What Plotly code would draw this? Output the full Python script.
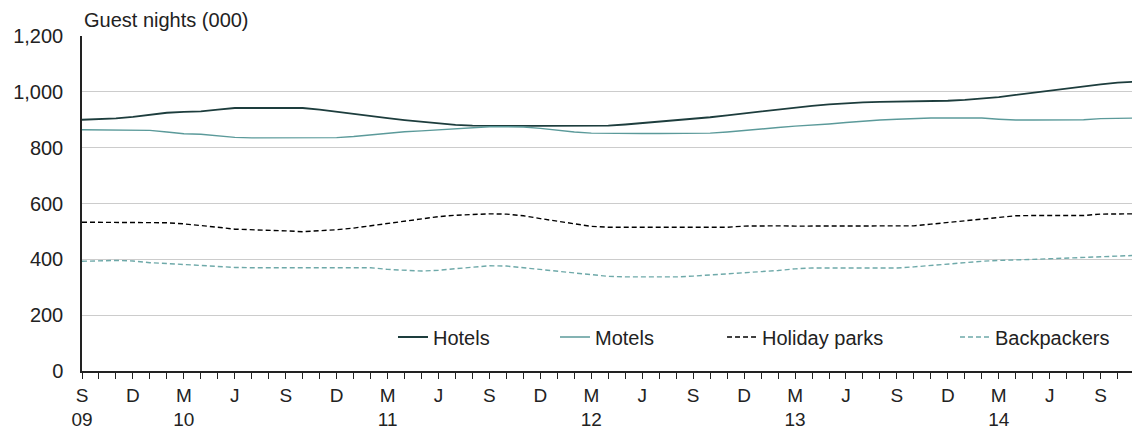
import plotly.graph_objects as go

# Monthly index 0 = Sep 2009 ... 62 = Nov 2014
months = list(range(63))

hotels = [900, 902, 905, 910, 918, 925, 928, 930, 936, 942, 942, 942, 942, 942, 936, 928,
          920, 913, 906, 899, 893, 887, 882, 879, 878, 878, 878, 878, 878, 878, 878, 879,
          883, 888, 893, 897, 902, 909, 916, 923, 930, 937, 944, 950, 955, 959, 962, 964,
          965, 965, 965, 968, 971, 975, 981, 989, 997, 1005, 1013, 1020, 1027, 1033, 1036]

motels = [864, 864, 864, 864, 862, 856, 850, 848, 843, 837, 835, 835, 835, 835, 835, 836,
          840, 846, 852, 857, 860, 864, 869, 873, 875, 875, 874, 869, 862, 856, 852, 851,
          851, 851, 851, 851, 851, 852, 856, 862, 868, 872, 877, 880, 885, 890, 895, 899,
          902, 905, 906, 906, 906, 906, 902, 899, 899, 899, 899, 900, 904, 906, 906]

holiday_parks = [533, 533, 533, 533, 533, 531, 527, 522, 515, 508, 506, 506, 502, 499, 502, 506,
                 512, 520, 527, 535, 545, 553, 558, 560, 563, 562, 556, 546, 537, 527, 518, 515,
                 515, 515, 515, 515, 515, 515, 515, 519, 520, 520, 519, 519, 519, 519, 519, 519,
                 519, 520, 526, 532, 538, 544, 550, 556, 557, 557, 557, 557, 562, 563, 563]

backpackers = [393, 395, 396, 394, 388, 385, 381, 378, 374, 371, 370, 370, 370, 370, 370, 370,
               370, 370, 364, 360, 358, 361, 366, 371, 377, 376, 370, 362, 357, 351, 345, 339,
               337, 337, 337, 337, 340, 344, 348, 351, 354, 360, 366, 369, 369, 369, 369, 369,
               369, 373, 378, 384, 388, 393, 396, 399, 400, 402, 404, 407, 410, 412, 414]

tick_positions = list(range(0, 63, 3))
tick_labels = ["S<br>09", "D", "M<br>10", "J", "S", "D", "M<br>11", "J", "S", "D",
               "M<br>12", "J", "S", "D", "M<br>13", "J", "S", "D", "M<br>14", "J", "S"]

series = [
    ("Hotels", hotels, "#1d3d3d", "solid", 1.8, "legend", 0.2945),
    ("Motels", motels, "#5b9a9a", "solid", 1.4, "legend2", 0.4479),
    ("Holiday parks", holiday_parks, "#000000", "5px,3px", 1.4, "legend3", 0.6061),
    ("Backpackers", backpackers, "#6ea9a9", "5px,3px", 1.4, "legend4", 0.8267),
]

fig = go.Figure()
for name, vals, color, dash, w, lg, _ in series:
    fig.add_trace(go.Scatter(x=months, y=vals, name=name, mode="lines", legend=lg,
                             line=dict(color=color, dash=dash, width=w)))

font = "Liberation Sans, Arial, sans-serif"
legend_layout = {}
for name, vals, color, dash, w, lg, lx in series:
    legend_layout[lg] = dict(orientation="h", x=lx, xanchor="left", y=0.1015, yanchor="middle",
                             bgcolor="rgba(0,0,0,0)", font=dict(size=20, color="#222222"),
                             itemwidth=30)

fig.update_layout(
    width=1140, height=432,
    margin=dict(l=74, r=10, t=28, b=69),
    paper_bgcolor="white", plot_bgcolor="white",
    font=dict(family=font, size=14, color="#222222"),
    showlegend=True,
    xaxis=dict(range=[0, 62.2], tickmode="array", tickvals=tick_positions, ticktext=tick_labels,
               automargin=False,
               showgrid=False, zeroline=False, showline=True, linecolor="#222222", linewidth=1.5,
               ticks="outside", ticklen=6, tickcolor="#222222", tickwidth=1.3,
               tickfont=dict(size=19),
               minor=dict(dtick=1, tick0=0, ticks="outside", ticklen=6, tickcolor="#222222",
                          tickwidth=1.3, showgrid=False)),
    yaxis=dict(range=[0, 1200], tickvals=[0, 200, 400, 600, 800, 1000, 1200],
               ticktext=["0", "200", "400", "600", "800", "1,000", "1,200"],
               automargin=False,
               showgrid=True, gridcolor="#cccccc", gridwidth=1.2, zeroline=False,
               showline=True, linecolor="#222222", linewidth=1.5, ticks="", ticklabelstandoff=13,
               tickfont=dict(size=20)),
    annotations=[dict(text="Guest nights (000)", x=0, xref="paper", xanchor="left",
                      y=1.0, yref="paper", yanchor="middle", yshift=16, showarrow=False,
                      font=dict(size=20, color="#222222"))],
    **legend_layout,
)

fig.write_html("out.html")
